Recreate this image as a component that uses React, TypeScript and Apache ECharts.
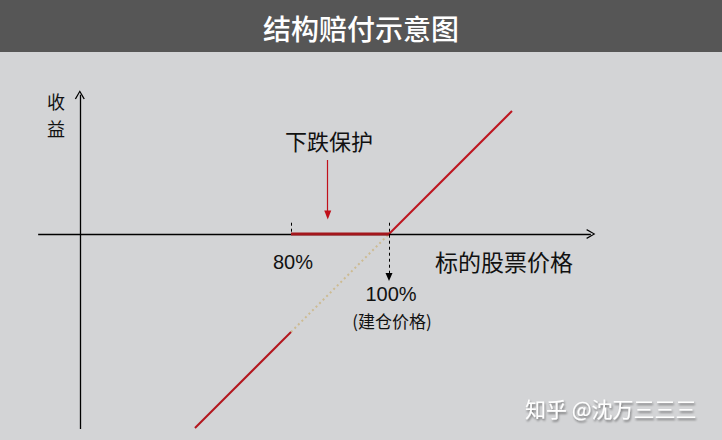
import React, { useEffect, useRef } from "react";
import * as echarts from "echarts";

// ---- data (price % on x, payoff % on y) ----
const lossLeg: number[][] = [[60.4, -39.6], [80, -20]];
const hiddenLeg: number[][] = [[80, -20], [100, 0]];
const protectLeg: number[][] = [[80, 0], [100, 0]];
const gainLeg: number[][] = [[100, 0], [125.1, 25.1]];
const xAxisLineCoords: number[][] = [[28.4, 0], [141.2, 0]];
const yAxisLineCoords: number[][] = [[36.9, -39.8], [36.9, 28.4]];
const tick80: number[][] = [[80, 2.3], [80, 0]];
const arrow100: number[][] = [[100, 2.3], [100, -8.8]];
const protectArrow: number[][] = [[87.5, 15.1], [87.5, 3.9]];

const titleText = "结构赔付示意图";
const yName = ["收", "益"];
const xName = "标的股票价格";
const label80 = "80%";
const label100 = "100%";
const label100Sub = "(建仓价格)";
const protectLabel = "下跌保护";
const watermark = "知乎 @沈万三三三";

const CJK = '"Noto Sans CJK SC", "Noto Sans", sans-serif';
const LAT = '"Liberation Sans", Arial, sans-serif';
const chevron = "path://M0,10 L5,0 L10,10 L8.8,10.6 L5,2.4 L1.2,10.6 Z";

function seg(coords: number[][], symbolEnd: string, size: number[] | number, lineStyle: any) {
  return {
    silent: true,
    symbol: ["none", symbolEnd],
    symbolSize: size,
    label: { show: false },
    emphasis: { disabled: true },
    animation: false,
    lineStyle,
    data: [[{ coord: coords[0] }, { coord: coords[1] }]],
  };
}

export default function App() {
  const ref = useRef<HTMLDivElement>(null);
  useEffect(() => {
    if (!ref.current) return;
    const chart = echarts.init(ref.current, undefined, { renderer: "svg" });
    const lineBase = { type: "line", showSymbol: false, silent: true, animation: false };
    chart.setOption({
      animation: false,
      backgroundColor: "#d3d4d6",
      grid: { left: 36.2, right: 127.2, top: 87, bottom: 0.2 },
      xAxis: { type: "value", min: 28, max: 142, show: false },
      yAxis: { type: "value", min: -42, max: 30, show: false },
      series: [
        {
          ...lineBase,
          name: "axes",
          z: 1,
          data: [],
          markLine: seg(xAxisLineCoords, chevron, [10, 9], { color: "#000", width: 1.3, type: "solid" }),
        },
        {
          ...lineBase,
          name: "yaxis",
          z: 1,
          data: [],
          markLine: seg(yAxisLineCoords, chevron, [10, 9], { color: "#000", width: 1.3, type: "solid" }),
        },
        {
          ...lineBase,
          name: "tick80",
          z: 1,
          data: [],
          markLine: seg(tick80, "none", 1, { color: "#000", width: 1, type: [3, 3] }),
        },
        {
          ...lineBase,
          name: "arrow100",
          z: 1,
          data: [],
          markLine: seg(arrow100, "triangle", [7, 8], { color: "#000", width: 1, type: [3, 3] }),
        },
        {
          ...lineBase,
          name: "protectArrow",
          z: 1,
          data: [],
          markLine: seg(protectArrow, "triangle", [7, 9], { color: "#c0101a", width: 1.2, type: "solid" }),
        },
        {
          ...lineBase,
          name: "hidden",
          z: 3,
          data: hiddenLeg,
          lineStyle: { color: "#cdbb92", width: 2, type: [2, 3] },
        },
        {
          ...lineBase,
          name: "loss",
          z: 4,
          data: lossLeg,
          lineStyle: { color: "#b3161e", width: 2 },
        },
        {
          ...lineBase,
          name: "gain",
          z: 4,
          data: gainLeg,
          lineStyle: { color: "#bd1620", width: 2 },
        },
        {
          ...lineBase,
          name: "protect",
          z: 5,
          data: protectLeg,
          lineStyle: { color: "#a3161c", width: 3.2 },
        },
      ],
      graphic: [
        { type: "rect", shape: { x: 0, y: 0, width: 722, height: 52 }, style: { fill: "#565656" }, silent: true },
        {
          type: "text",
          style: { text: titleText, x: 361, y: 28, fill: "#ffffff", fontSize: 28, fontWeight: 500, fontFamily: CJK, textAlign: "center", textVerticalAlign: "middle" },
        },
        {
          type: "text",
          style: { text: yName[0], x: 56, y: 101, fill: "#111", fontSize: 18, fontFamily: CJK, textAlign: "center", textVerticalAlign: "middle" },
        },
        {
          type: "text",
          style: { text: yName[1], x: 56, y: 127.5, fill: "#111", fontSize: 18, fontFamily: CJK, textAlign: "center", textVerticalAlign: "middle" },
        },
        {
          type: "text",
          style: { text: protectLabel, x: 329, y: 140, fill: "#111", fontSize: 22, fontFamily: CJK, textAlign: "center", textVerticalAlign: "middle" },
        },
        {
          type: "text",
          style: { text: label80, x: 293, y: 262, fill: "#111", fontSize: 20, fontFamily: LAT, textAlign: "center", textVerticalAlign: "middle" },
        },
        {
          type: "text",
          style: { text: xName, x: 435, y: 261, fill: "#111", fontSize: 23, fontFamily: CJK, textAlign: "left", textVerticalAlign: "middle" },
        },
        {
          type: "text",
          style: { text: label100, x: 391, y: 294, fill: "#111", fontSize: 20, fontFamily: LAT, textAlign: "center", textVerticalAlign: "middle" },
        },
        {
          type: "text",
          style: { text: label100Sub, x: 392, y: 320, fill: "#111", fontSize: 17, fontFamily: CJK, textAlign: "center", textVerticalAlign: "middle" },
        },
        {
          type: "text",
          style: {
            text: watermark, x: 525, y: 408, fill: "#ffffff", fontSize: 21, fontFamily: CJK,
            textAlign: "left", textVerticalAlign: "middle",
            textShadowColor: "rgba(0,0,0,0.45)", textShadowBlur: 2, textShadowOffsetX: 1, textShadowOffsetY: 2,
          },
        },
      ],
    });
    return () => chart.dispose();
  }, []);
  return (
    <div
      ref={ref}
      style={{ position: "fixed", left: 0, top: 0, width: 722, height: 440 }}
    />
  );
}
